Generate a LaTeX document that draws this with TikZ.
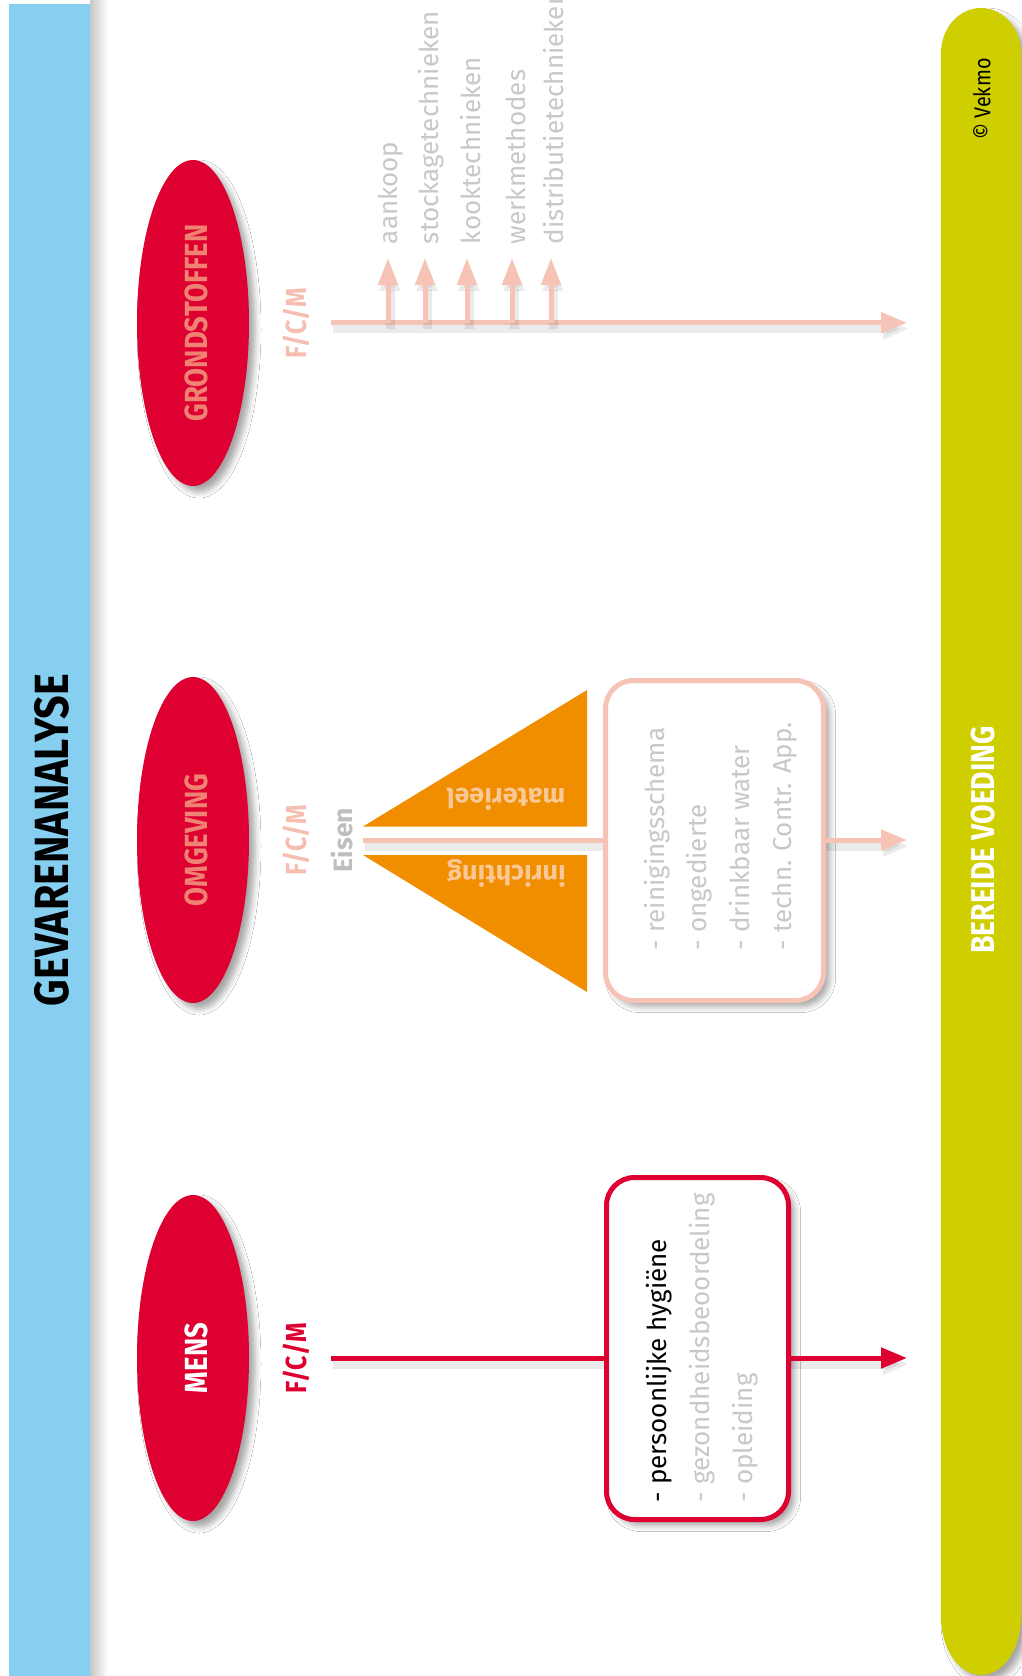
\documentclass[tikz,border=0pt]{standalone}
\usepackage{fontspec}
\setmainfont{Fira Sans}
\newfontfamily\condsans{Fira Sans}[FakeStretch=0.86]
\usetikzlibrary{shapes.geometric,arrows.meta,shadows.blur}

\definecolor{barblue}{RGB}{135,207,240}
\definecolor{hazred}{RGB}{221,0,49}
\definecolor{hazorange}{RGB}{240,142,0}
\definecolor{foodgreen}{RGB}{206,206,0}
\definecolor{paleline}{RGB}{245,196,183}
\definecolor{salmontext}{RGB}{240,130,115}
\definecolor{palelabel}{RGB}{246,190,176}
\definecolor{softgrey}{RGB}{200,200,200}
\definecolor{eisengrey}{RGB}{190,190,190}
\definecolor{peach}{RGB}{250,200,150}

\newcommand{\fs}[1]{\fontsize{#1}{#1}\selectfont}

\begin{document}
\begin{tikzpicture}[x=1pt,y=-1pt,
  every node/.style={inner sep=0pt, outer sep=0pt},
  up/.style={rotate=90},
  softshadow/.style={blur shadow={shadow xshift=6pt, shadow yshift=-6pt,
      shadow blur radius=6pt, shadow opacity=35}},
  lineshadow/.style={preaction={draw=black, opacity=0.08, line width=9pt,
      transform canvas={shift={(2pt,-6pt)}}}},
  source/.style={ellipse, fill=hazred, minimum width=112pt,
      minimum height=326pt, softshadow},
  srclabel/.style={up, font=\condsans\fs{32}\bfseries},
  fcm/.style={up, font=\condsans\fs{29}\bfseries},
  flow/.style={line width=5pt, lineshadow},
  flowarrow/.style={flow, -{Triangle[length=26pt, width=20pt]}},
  branch/.style={line width=5pt, lineshadow, -{Triangle[length=27pt, width=19pt]}},
  item/.style={up, anchor=base west, font=\fs{26}, text=softgrey},
  listbox/.style={draw, line width=5pt, fill=white, rounded corners=28pt, softshadow},
  wing/.style={rotate=180, anchor=base, font=\fs{27}\bfseries, text=peach},
]
% canvas
\fill[white] (0,0) rectangle (1021,1676);
\useasboundingbox (0,0) rectangle (1021,1676);

% left bar with its shadow
\shade[left color=black!22, right color=white] (90,0) rectangle (108,1676);
\fill[barblue] (9,4) rectangle (90,1676);
\node[up, font=\condsans\fs{48}\bfseries] (title) at (52,840) {GEVARENANALYSE};

% right bar
\fill[foodgreen, softshadow] (941,53)
  arc[start angle=180, end angle=0, x radius=40pt, y radius=45pt]
  -- (1021,1617)
  arc[start angle=0, end angle=-180, x radius=40pt, y radius=58pt] -- cycle;
\node[up, font=\condsans\fs{33}\bfseries, text=white] (product) at (983,840) {BEREIDE VOEDING};
\node[up, font=\condsans\fs{23}] (copy) at (982,99) {© Vekmo};

% sources
\node[source] (raw) at (193,323) {};
\node[source] (env) at (193,840) {};
\node[source] (man) at (193,1358) {};
\node[srclabel, text=salmontext] (rawlabel) at (196,323) {GRONDSTOFFEN};
\node[srclabel, text=salmontext] (envlabel) at (196,840) {OMGEVING};
\node[srclabel, text=white] (manlabel) at (196,1358) {MENS};

% raw materials flow
\node[fcm, text=palelabel] (fcm1) at (296,323) {F/C/M};
\coordinate (t0) at (331,322.7);
\coordinate (t1) at (907,322.7);
\draw[flowarrow, paleline] (t0) -- (t1);
\foreach \x/\n in {388/a, 425/b, 467/c, 512/d, 551/e}{
  \coordinate (tb\n) at (\x,322.7);
  \coordinate (tt\n) at (\x,258);
  \draw[branch, paleline] (tb\n) -- (tt\n);
}
\node[item] (ia) at (397,244) {aankoop};
\node[item] (ib) at (438,244) {stockagetechnieken};
\node[item] (ic) at (480,244) {kooktechnieken};
\node[item] (id) at (525,244) {werkmethodes};
\node[item] (ie) at (563,244) {distributietechnieken};

% environment flow
\node[fcm, text=palelabel] (fcm2) at (296,840) {F/C/M};
\node[up, font=\fs{26.5}\bfseries, text=eisengrey] (eisen) at (342,840) {Eisen};
\fill[hazorange] (363,826.5) -- (587,690) -- (587,826.5) -- cycle;
\fill[hazorange] (363,855) -- (587,855) -- (587,992) -- cycle;
\node[wing] (mat) at (506,788) {materieel};
\node[wing] (inr) at (506.5,865) {inrichting};
\coordinate (m0) at (363,840);
\coordinate (m1) at (907,840);
\draw[flow, paleline] (m0) -- (m0 -| 605.5,0);
\node[listbox, draw=paleline, minimum width=218pt, minimum height=320pt] (envbox) at (714.5,840.5) {};
\draw[flowarrow, paleline] (m1 -| envbox.east) -- (m1);
\node[item] (e1) at (664,950) {- reinigingsschema};
\node[item] (e2) at (706.5,950) {- ongedierte};
\node[item] (e3) at (749,950) {- drinkbaar water};
\node[item] (e4) at (791.5,950) {- techn. Contr. App.};

% human flow
\node[fcm, text=hazred] (fcm3) at (296,1358.5) {F/C/M};
\coordinate (b0) at (331,1358);
\coordinate (b1) at (907,1358);
\draw[flow, hazred] (b0) -- (b0 -| 606.5,0);
\node[listbox, draw=hazred, minimum width=182pt, minimum height=342pt] (manbox) at (697.5,1348.5) {};
\draw[flowarrow, hazred] (b1 -| manbox.east) -- (b1);
\node[item, text=black] (h1) at (666,1502) {- persoonlijke hygiëne};
\node[item] (h2) at (709,1502) {- gezondheidsbeoordeling};
\node[item] (h3) at (752,1502) {- opleiding};
\end{tikzpicture}
\end{document}
